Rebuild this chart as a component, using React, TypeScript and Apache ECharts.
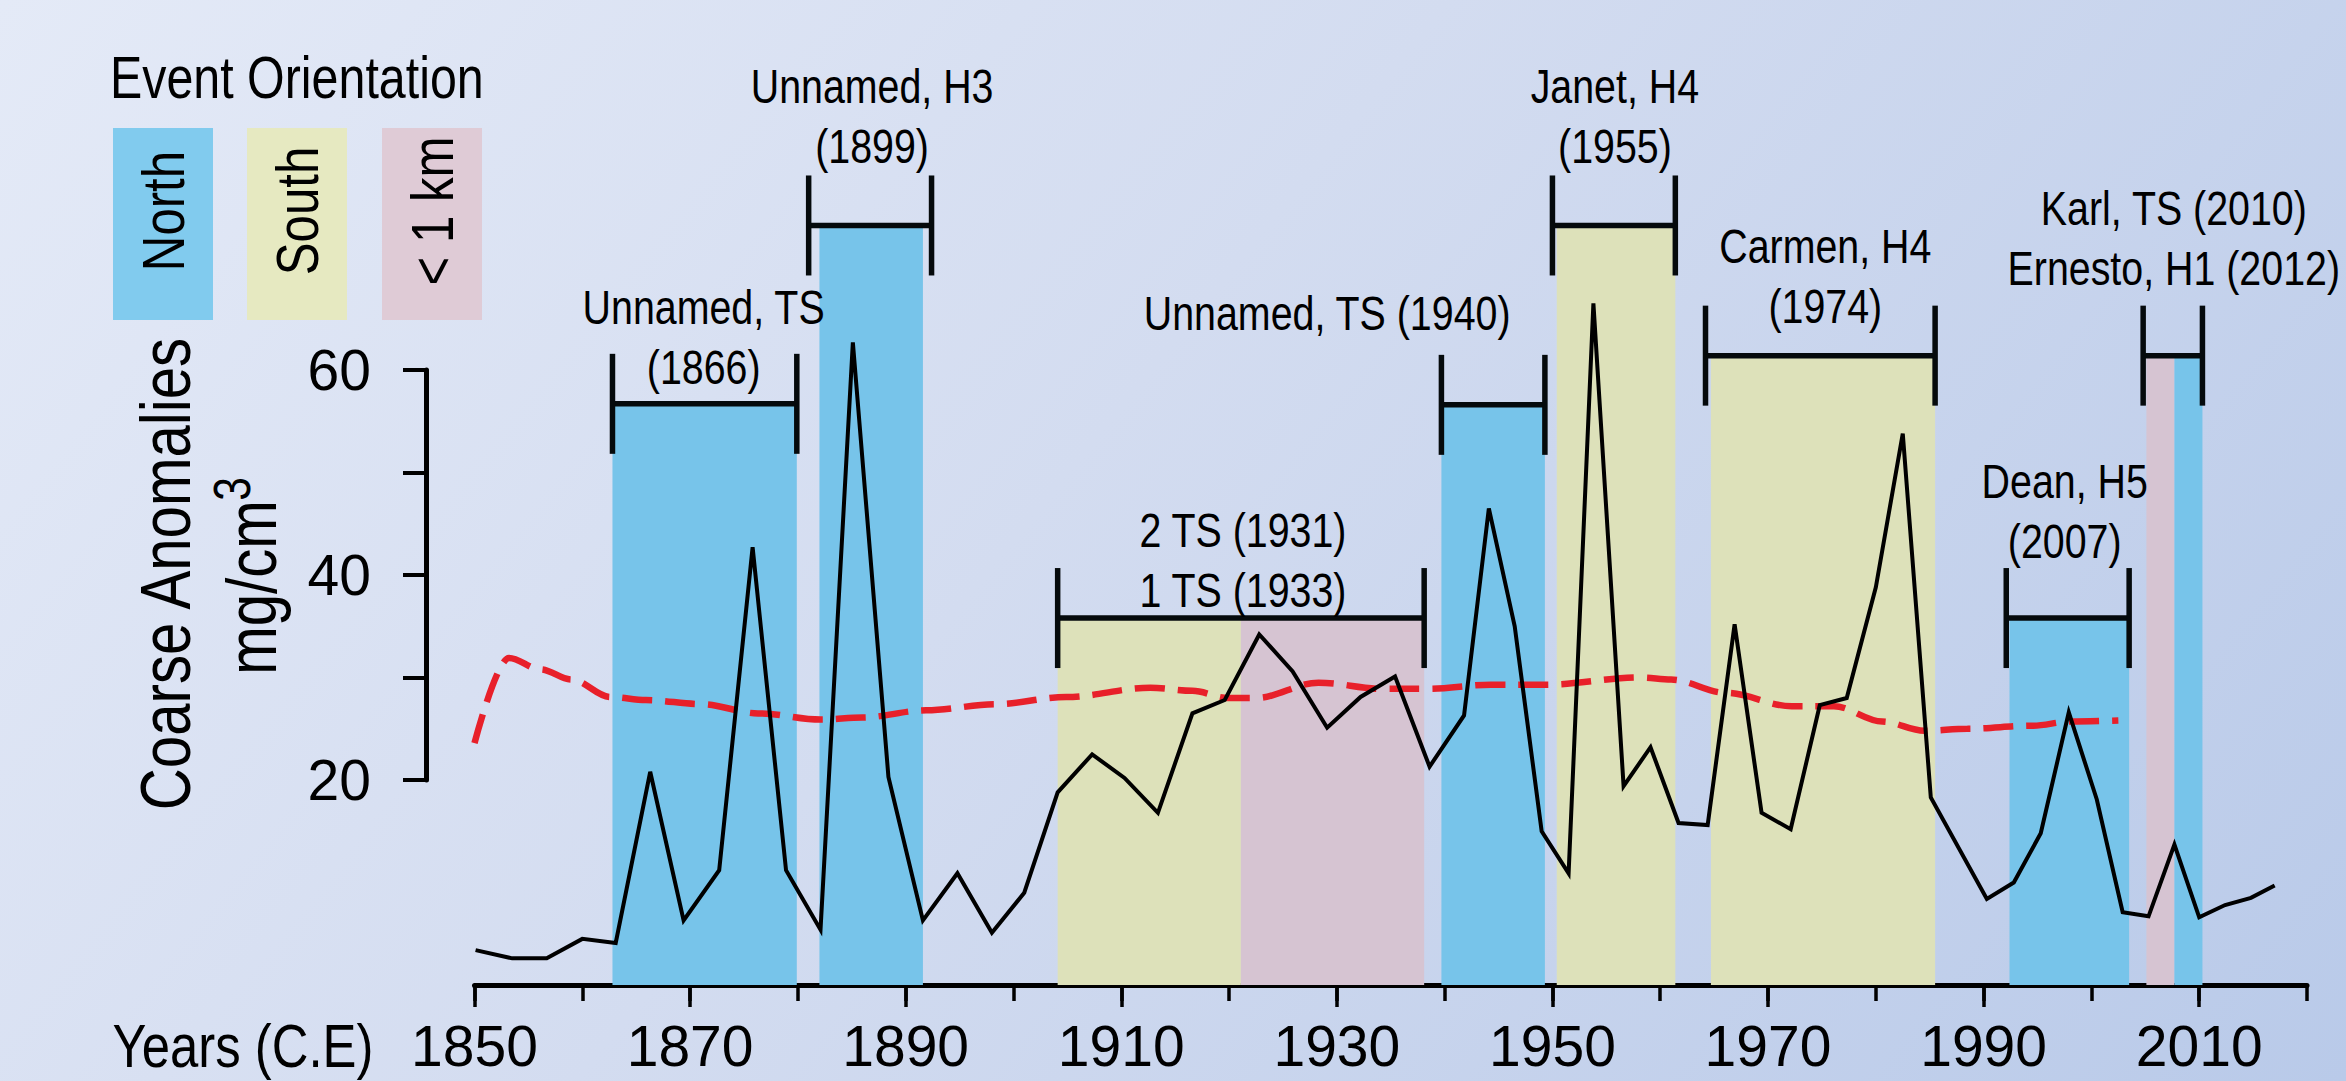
import React, { useEffect, useRef } from "react";
import * as echarts from "echarts";

const FONT = "'Liberation Sans', Arial, sans-serif";
const NARROW = 0.82; // horizontal squeeze to imitate a narrow sans face

// ---------------- DATA ----------------
// Coarse anomaly record (black line)
const coreYears = [
  1850.1, 1853.5, 1856.7, 1860.0, 1863.1, 1866.3, 1869.4, 1872.7, 1875.8, 1878.9,
  1882.1, 1885.1, 1888.4, 1891.6, 1894.8, 1898.0, 1901.0, 1904.1, 1907.3, 1910.3,
  1913.4, 1916.6, 1919.6, 1922.8, 1925.9, 1929.1, 1932.2, 1935.4, 1938.6, 1941.8,
  1944.1, 1946.5, 1949.0, 1951.5, 1953.8, 1956.6, 1959.1, 1961.7, 1964.4, 1966.9,
  1969.4, 1972.1, 1974.8, 1977.3, 1980.0, 1982.5, 1985.1, 1990.3, 1992.8, 1995.3,
  1997.9, 2000.5, 2002.9, 2005.3, 2007.7, 2010.0, 2012.4, 2014.8, 2017.0,
];
const coarseAnomaly = [
  3.4, 2.6, 2.6, 4.5, 4.1, 20.8, 6.3, 11.2, 42.7, 11.2,
  5.4, 62.7, 20.3, 6.3, 10.9, 5.1, 9.0, 18.8, 22.5, 20.2,
  16.8, 26.5, 27.8, 34.2, 30.6, 25.1, 28.1, 30.1, 21.3, 26.3,
  46.5, 35.0, 15.0, 10.9, 66.5, 19.4, 23.2, 15.8, 15.6, 35.2,
  16.8, 15.2, 27.3, 28.0, 38.8, 53.8, 18.3, 8.4, 10.0, 14.8,
  26.6, 18.1, 7.1, 6.7, 13.7, 6.6, 7.8, 8.5, 9.7,
];

// Smoothed trend (red dashed line)
const trendYears = [
  1850.0, 1853.2, 1856.1, 1859.0, 1862.6, 1865.9, 1871.1, 1876.3, 1882.1, 1886.0,
  1891.9, 1898.4, 1904.9, 1912.7, 1916.6, 1919.9, 1922.5, 1928.3, 1934.2, 1938.5,
  1944.3, 1949.3, 1958.2, 1961.0, 1966.1, 1972.2, 1976.1, 1980.6, 1984.5, 1988.5,
  1994.6, 1998.0, 2002.5,
];
const trendValues = [
  23.6, 31.9, 30.8, 29.8, 28.1, 27.8, 27.4, 26.5, 25.9, 26.1,
  26.8, 27.4, 28.1, 29.0, 28.7, 28.0, 28.0, 29.5, 28.9, 28.9,
  29.3, 29.3, 30.0, 29.8, 28.5, 27.2, 27.2, 25.7, 24.8, 25.0,
  25.3, 25.7, 25.8,
];

// Shaded event bands
const bandStart = [1862.8, 1882.0, 1904.1, 1921.1, 1939.7, 1950.4, 1964.7, 1992.4, 2005.1, 2007.7];
const bandEnd = [1879.9, 1891.6, 1921.1, 1938.1, 1949.3, 1961.4, 1985.5, 2003.5, 2007.7, 2010.3];
const bandTop = [56.7, 74.1, 35.8, 35.8, 56.6, 74.1, 61.4, 35.8, 61.4, 61.4];
const bandOrientation = ["North", "North", "South", "< 1 km", "North", "South", "South", "North", "< 1 km", "North"];

// Event brackets and their labels
const eventLabels = [
  ["Unnamed, TS", "(1866)"],
  ["Unnamed, H3", "(1899)"],
  ["2 TS (1931)", "1 TS (1933)"],
  ["Unnamed, TS (1940)"],
  ["Janet, H4", "(1955)"],
  ["Carmen, H4", "(1974)"],
  ["Dean, H5", "(2007)"],
  ["Karl, TS (2010)", "Ernesto, H1 (2012)"],
];
const eventStart = [1862.8, 1881.0, 1904.1, 1939.7, 1950.0, 1964.2, 1992.1, 2004.8];
const eventEnd = [1879.9, 1892.4, 1938.1, 1949.3, 1961.4, 1985.5, 2003.5, 2010.3];
const eventLevel = [56.7, 74.1, 35.8, 56.6, 74.1, 61.4, 35.8, 61.4];

const orientationNames = ["North", "South", "< 1 km"];
const xLabelYears = [1850, 1870, 1890, 1910, 1930, 1950, 1970, 1990, 2010];
const xTickYears = [1850, 1860, 1870, 1880, 1890, 1900, 1910, 1920, 1930, 1940, 1950, 1960, 1970, 1980, 1990, 2000, 2010, 2020];
const yTickValues = [20, 30, 40, 50, 60];
const yLabelValues = [20, 40, 60];

// ---------------- STYLE / LAYOUT ----------------
const bandColors = ["#77c4ea", "#dde1ba", "#d6c4d2"];
const legendColors = ["#81cbee", "#e6e9c1", "#dfcbd6"];
// label offsets (px) relative to bracket centre / bracket line
const eventLabelOffset = [
  [-1, -67], [2, -109], [2, -58], [-166, -92], [1, -109.5], [5, -79.5], [-3, -107], [1, -117.5],
];

export default function App() {
  const ref = useRef<HTMLDivElement>(null);

  useEffect(() => {
    document.body.style.margin = "0";
    if (!ref.current) return;
    const chart = echarts.init(ref.current, undefined, { renderer: "svg" });

    const bandData = bandStart.map((s, i) => [s, bandEnd[i], bandTop[i], orientationNames.indexOf(bandOrientation[i])]);
    const eventData = eventStart.map((s, i) => [s, eventEnd[i], eventLevel[i], i]);

    const textStyle = (size: number) => ({ fontSize: size, fontFamily: FONT, fill: "#000" });
    const centered = { align: "center", verticalAlign: "middle", textAlign: "center", textVerticalAlign: "middle" };

    const legendGraphics: any[] = [];
    const legendX = [113, 247, 382];
    orientationNames.forEach((name, i) => {
      legendGraphics.push({
        type: "rect",
        shape: { x: legendX[i], y: 128, width: 100, height: 192 },
        style: { fill: legendColors[i] },
      });
      legendGraphics.push({
        type: "text",
        x: legendX[i] + 50,
        y: 211,
        rotation: Math.PI / 2,
        scaleX: NARROW,
        style: { text: name, ...textStyle(60), ...centered },
      });
    });

    const option: any = {
      animation: false,
      backgroundColor: "transparent",
      grid: [
        { left: 474.5, right: 39, top: 165, bottom: 96, containLabel: false, outerBoundsMode: "none" },
        { left: 426, width: 10, top: 370, bottom: 301, containLabel: false, outerBoundsMode: "none" },
      ],
      xAxis: [
        {
          gridIndex: 0,
          type: "value",
          min: 1850,
          max: 2020,
          position: "bottom",
          axisLine: { show: true, onZero: false, lineStyle: { color: "#000", width: 5 } },
          axisTick: { show: true, customValues: xTickYears, length: 16, lineStyle: { color: "#000", width: 3.5 } },
          axisLabel: {
            show: true,
            customValues: xLabelYears,
            formatter: (v: number) => String(v),
            fontSize: 57,
            fontFamily: FONT,
            color: "#000",
            margin: 61,
            verticalAlign: "middle",
            hideOverlap: false,
          },
          splitLine: { show: false },
        },
        {
          gridIndex: 0,
          type: "value",
          min: 1850,
          max: 2020,
          position: "bottom",
          axisLine: { show: false, onZero: false },
          axisTick: { show: true, customValues: xLabelYears, length: 22, lineStyle: { color: "#000", width: 3.5 } },
          axisLabel: { show: false },
          splitLine: { show: false },
        },
        { gridIndex: 1, type: "value", min: 0, max: 1, show: false },
      ],
      yAxis: [
        { gridIndex: 0, type: "value", min: 0, max: 80, show: false },
        {
          gridIndex: 1,
          type: "value",
          min: 20,
          max: 60,
          position: "left",
          axisLine: { show: true, onZero: false, lineStyle: { color: "#000", width: 5 } },
          axisTick: { show: true, customValues: yTickValues, length: 23, lineStyle: { color: "#000", width: 4 } },
          axisLabel: {
            show: true,
            customValues: yLabelValues,
            formatter: (v: number) => String(v),
            fontSize: 57,
            fontFamily: FONT,
            color: "#000",
            margin: 55,
            hideOverlap: false,
          },
          splitLine: { show: false },
        },
      ],
      series: [
        {
          type: "custom",
          name: "bands",
          xAxisIndex: 0,
          yAxisIndex: 0,
          clip: false,
          silent: true,
          z: 1,
          data: bandData,
          encode: { x: [0, 1], y: 2 },
          renderItem: (params: any, api: any) => {
            const p0 = api.coord([api.value(0), api.value(2)]);
            const p1 = api.coord([api.value(1), 0]);
            return {
              type: "rect",
              shape: { x: p0[0], y: p0[1], width: p1[0] - p0[0], height: p1[1] - p0[1] },
              style: { fill: bandColors[api.value(3)] },
            };
          },
        },
        {
          type: "line",
          name: "trend",
          xAxisIndex: 0,
          yAxisIndex: 0,
          z: 3,
          data: trendYears.map((y, i) => [y, trendValues[i]]),
          smooth: 0.35,
          smoothMonotone: "x",
          symbol: "none",
          lineStyle: { color: "#e8202a", width: 6.5, type: [30, 13], cap: "butt" },
        },
        {
          type: "line",
          name: "coarse",
          xAxisIndex: 0,
          yAxisIndex: 0,
          z: 4,
          data: coreYears.map((y, i) => [y, coarseAnomaly[i]]),
          symbol: "none",
          lineStyle: { color: "#000", width: 4, join: "miter" },
        },
        {
          type: "custom",
          name: "events",
          xAxisIndex: 0,
          yAxisIndex: 0,
          clip: false,
          silent: true,
          z: 6,
          data: eventData,
          encode: { x: [0, 1], y: 2 },
          renderItem: (params: any, api: any) => {
            const idx = api.value(3);
            const a = api.coord([api.value(0), api.value(2)]);
            const b = api.coord([api.value(1), api.value(2)]);
            const cap = 50;
            const ls = { stroke: "#050a0c", lineWidth: 5.5 };
            const off = eventLabelOffset[idx];
            return {
              type: "group",
              children: [
                { type: "line", shape: { x1: a[0], y1: a[1], x2: b[0], y2: b[1] }, style: ls },
                { type: "line", shape: { x1: a[0], y1: a[1] - cap, x2: a[0], y2: a[1] + cap }, style: ls },
                { type: "line", shape: { x1: b[0], y1: b[1] - cap, x2: b[0], y2: b[1] + cap }, style: ls },
                {
                  type: "text",
                  x: (a[0] + b[0]) / 2 + off[0],
                  y: a[1] + off[1],
                  scaleX: NARROW,
                  style: {
                    text: eventLabels[idx].join("\n"),
                    ...textStyle(48),
                    lineHeight: 60,
                    align: "center",
                    verticalAlign: "middle",
                  },
                },
              ],
            };
          },
        },
      ],
      graphic: [
        ...legendGraphics,
        {
          type: "text",
          x: 110,
          y: 77.5,
          scaleX: NARROW,
          style: { text: "Event Orientation", ...textStyle(59), align: "left", verticalAlign: "middle", textAlign: "left", textVerticalAlign: "middle" },
        },
        {
          type: "text",
          x: 243,
          y: 1046,
          scaleX: NARROW,
          style: { text: "Years (C.E)", ...textStyle(62), ...centered },
        },
        {
          type: "text",
          x: 165,
          y: 574,
          rotation: Math.PI / 2,
          scaleX: NARROW,
          style: { text: "Coarse Anomalies", ...textStyle(71), ...centered },
        },
        {
          type: "text",
          x: 251,
          y: 587.5,
          rotation: Math.PI / 2,
          scaleX: NARROW,
          style: { text: "mg/cm", ...textStyle(71), ...centered },
        },
        {
          type: "text",
          x: 232,
          y: 489,
          rotation: Math.PI / 2,
          scaleX: NARROW,
          style: { text: "3", ...textStyle(52), ...centered },
        },
      ],
    };

    chart.setOption(option);
    return () => chart.dispose();
  }, []);

  return (
    <div
      ref={ref}
      style={{
        width: 2346,
        height: 1081,
        background: "linear-gradient(129deg, #e4eaf7 0%, #d3dcf0 45%, #b9cae9 100%)",
      }}
    />
  );
}
